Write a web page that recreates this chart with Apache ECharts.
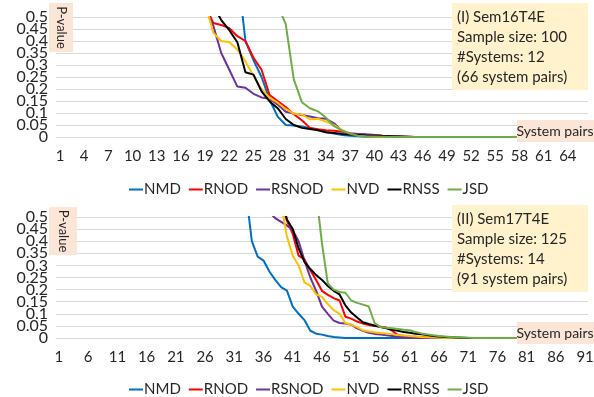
<!DOCTYPE html>
<html>
<head>
<meta charset="utf-8">
<script src="https://cdn.jsdelivr.net/npm/echarts@6/dist/echarts.min.js"></script>
<style>
html, body { margin: 0; padding: 0; background: #fff; }
#chart { width: 594px; height: 397px; }
</style>
</head>
<body>
<div id="chart"></div>
<script>
// system pair ranks (x categories)
var pairsTop = [];
for (var i = 1; i <= 66; i++) pairsTop.push(String(i));
var pairsBottom = [];
for (var j = 1; j <= 91; j++) pairsBottom.push(String(j));

var names = ['NMD', 'RNOD', 'RSNOD', 'NVD', 'RNSS', 'JSD'];
var colors = ['#0070C0', '#FF0000', '#7030A0', '#FFC000', '#000000', '#70AD47'];

// (I) Sem16T4E, 66 pairs, sorted p-values
var topNMD = [1, 1, 0.99, 0.99, 0.98, 0.97, 0.96, 0.95, 0.94, 0.93,
    0.92, 0.9, 0.89, 0.87, 0.86, 0.84, 0.83, 0.81, 0.79, 0.77,
    0.75, 0.73, 0.7, 0.4, 0.32, 0.25, 0.155, 0.085, 0.05, 0.048,
    0.044, 0.037, 0.03, 0.02, 0.014, 0.008, 0.005, 0.003, 0.001, 0,
    0, 0, 0, 0, 0, 0, 0, 0, 0, 0,
    0, 0, 0, 0, 0, 0, 0, 0, 0, 0,
    0, 0, 0, 0, 0, 0];
var topRNOD = [1, 1, 0.99, 0.98, 0.97, 0.96, 0.94, 0.93, 0.91, 0.89,
    0.87, 0.85, 0.82, 0.79, 0.76, 0.72, 0.68, 0.62, 0.55, 0.475,
    0.467, 0.453, 0.42, 0.4, 0.33, 0.28, 0.175, 0.15, 0.125, 0.095,
    0.07, 0.038, 0.032, 0.028, 0.026, 0.022, 0.016, 0.013, 0.01, 0.008,
    0.005, 0.003, 0.002, 0.001, 0, 0, 0, 0, 0, 0,
    0, 0, 0, 0, 0, 0, 0, 0, 0, 0,
    0, 0, 0, 0, 0, 0];
var topRSNOD = [1, 0.99, 0.99, 0.98, 0.96, 0.95, 0.93, 0.91, 0.89, 0.87,
    0.85, 0.83, 0.8, 0.77, 0.74, 0.7, 0.66, 0.6, 0.54, 0.465,
    0.35, 0.28, 0.21, 0.205, 0.18, 0.165, 0.16, 0.135, 0.105, 0.098,
    0.092, 0.085, 0.078, 0.076, 0.057, 0.025, 0.014, 0.012, 0.01, 0.008,
    0.005, 0.003, 0.002, 0.001, 0, 0, 0, 0, 0, 0,
    0, 0, 0, 0, 0, 0, 0, 0, 0, 0,
    0, 0, 0, 0, 0, 0];
var topNVD = [1, 0.99, 0.98, 0.98, 0.97, 0.95, 0.94, 0.92, 0.9, 0.88,
    0.86, 0.84, 0.81, 0.78, 0.75, 0.71, 0.67, 0.62, 0.56, 0.435,
    0.4, 0.395, 0.365, 0.315, 0.255, 0.2, 0.163, 0.143, 0.117, 0.097,
    0.094, 0.074, 0.076, 0.064, 0.05, 0.029, 0.013, 0.006, 0.003, 0.001,
    0, 0, 0, 0, 0, 0, 0, 0, 0, 0,
    0, 0, 0, 0, 0, 0, 0, 0, 0, 0,
    0, 0, 0, 0, 0, 0];
var topRNSS = [1, 1, 0.99, 0.98, 0.98, 0.97, 0.96, 0.95, 0.93, 0.92,
    0.9, 0.88, 0.86, 0.83, 0.8, 0.77, 0.73, 0.69, 0.62, 0.55,
    0.487, 0.445, 0.395, 0.27, 0.26, 0.19, 0.148, 0.12, 0.075, 0.05,
    0.038, 0.033, 0.028, 0.02, 0.017, 0.013, 0.01, 0.008, 0.006, 0.005,
    0.004, 0.003, 0.002, 0.001, 0, 0, 0, 0, 0, 0,
    0, 0, 0, 0, 0, 0, 0, 0, 0, 0,
    0, 0, 0, 0, 0, 0];
var topJSD = [1, 1, 1, 0.99, 0.99, 0.98, 0.98, 0.97, 0.97, 0.96,
    0.95, 0.95, 0.94, 0.93, 0.92, 0.91, 0.9, 0.88, 0.87, 0.85,
    0.83, 0.81, 0.78, 0.76, 0.72, 0.68, 0.62, 0.55, 0.47, 0.24,
    0.145, 0.12, 0.107, 0.08, 0.045, 0.027, 0.013, 0.005, 0.003, 0.002,
    0.001, 0, 0, 0, 0, 0, 0, 0, 0, 0,
    0, 0, 0, 0, 0, 0, 0, 0, 0, 0,
    0, 0, 0, 0, 0, 0];

// (II) Sem17T4E, 91 pairs
var botNMD = [1, 1, 1, 0.99, 0.99, 0.98, 0.98, 0.97, 0.96, 0.96,
    0.95, 0.94, 0.93, 0.92, 0.91, 0.9, 0.89, 0.88, 0.86, 0.85,
    0.84, 0.82, 0.81, 0.79, 0.77, 0.76, 0.74, 0.72, 0.7, 0.68,
    0.66, 0.63, 0.6, 0.4, 0.336, 0.32, 0.275, 0.24, 0.21, 0.196,
    0.13, 0.1, 0.074, 0.03, 0.018, 0.014, 0.008, 0.004, 0.002, 0,
    0, 0, 0, 0, 0, 0, 0, 0, 0, 0,
    0, 0, 0, 0, 0, 0, 0, 0, 0, 0,
    0, 0, 0, 0, 0, 0, 0, 0, 0, 0,
    0, 0, 0, 0, 0, 0, 0, 0, 0, 0,
    0];
var botRNOD = [1, 1, 1, 1, 0.99, 0.99, 0.98, 0.98, 0.97, 0.97,
    0.96, 0.95, 0.95, 0.94, 0.93, 0.92, 0.91, 0.9, 0.89, 0.88,
    0.87, 0.85, 0.84, 0.82, 0.81, 0.79, 0.77, 0.76, 0.74, 0.72,
    0.7, 0.68, 0.66, 0.65, 0.63, 0.61, 0.6, 0.58, 0.56, 0.485,
    0.43, 0.34, 0.325, 0.28, 0.24, 0.195, 0.178, 0.165, 0.155, 0.088,
    0.08, 0.068, 0.06, 0.054, 0.05, 0.047, 0.043, 0.03, 0.012, 0.008,
    0.006, 0.005, 0.004, 0.003, 0.002, 0.001, 0, 0, 0, 0,
    0, 0, 0, 0, 0, 0, 0, 0, 0, 0,
    0, 0, 0, 0, 0, 0, 0, 0, 0, 0,
    0];
var botRSNOD = [1, 1, 1, 0.99, 0.99, 0.98, 0.98, 0.97, 0.96, 0.96,
    0.95, 0.94, 0.93, 0.92, 0.91, 0.9, 0.89, 0.87, 0.86, 0.85,
    0.83, 0.82, 0.8, 0.78, 0.77, 0.75, 0.73, 0.71, 0.69, 0.67,
    0.65, 0.63, 0.61, 0.59, 0.57, 0.55, 0.52, 0.495, 0.48, 0.465,
    0.445, 0.4, 0.32, 0.25, 0.195, 0.13, 0.1, 0.072, 0.062, 0.06,
    0.055, 0.04, 0.03, 0.022, 0.017, 0.014, 0.011, 0.008, 0.005, 0.003,
    0.002, 0.001, 0, 0, 0, 0, 0, 0, 0, 0,
    0, 0, 0, 0, 0, 0, 0, 0, 0, 0,
    0, 0, 0, 0, 0, 0, 0, 0, 0, 0,
    0];
var botNVD = [1, 1, 0.99, 0.99, 0.98, 0.98, 0.97, 0.97, 0.96, 0.95,
    0.94, 0.93, 0.92, 0.91, 0.9, 0.89, 0.88, 0.86, 0.85, 0.84,
    0.82, 0.81, 0.79, 0.78, 0.76, 0.74, 0.73, 0.71, 0.69, 0.68,
    0.66, 0.65, 0.63, 0.62, 0.6, 0.59, 0.58, 0.57, 0.555, 0.42,
    0.34, 0.3, 0.23, 0.215, 0.18, 0.17, 0.14, 0.115, 0.1, 0.062,
    0.055, 0.045, 0.032, 0.027, 0.024, 0.021, 0.019, 0.016, 0.012, 0.01,
    0.008, 0.006, 0.004, 0.003, 0.002, 0.001, 0, 0, 0, 0,
    0, 0, 0, 0, 0, 0, 0, 0, 0, 0,
    0, 0, 0, 0, 0, 0, 0, 0, 0, 0,
    0];
var botRNSS = [1, 1, 1, 1, 0.99, 0.99, 0.99, 0.98, 0.98, 0.97,
    0.97, 0.96, 0.95, 0.95, 0.94, 0.93, 0.92, 0.91, 0.9, 0.89,
    0.88, 0.86, 0.85, 0.84, 0.82, 0.81, 0.79, 0.78, 0.76, 0.75,
    0.73, 0.72, 0.7, 0.69, 0.67, 0.66, 0.64, 0.62, 0.59, 0.49,
    0.45, 0.37, 0.315, 0.285, 0.26, 0.24, 0.215, 0.195, 0.18, 0.135,
    0.105, 0.085, 0.065, 0.058, 0.052, 0.045, 0.04, 0.034, 0.03, 0.025,
    0.022, 0.018, 0.015, 0.012, 0.008, 0.006, 0.004, 0.003, 0.002, 0.001,
    0, 0, 0, 0, 0, 0, 0, 0, 0, 0,
    0, 0, 0, 0, 0, 0, 0, 0, 0, 0,
    0];
var botJSD = [1, 1, 1, 1, 1, 0.99, 0.99, 0.99, 0.98, 0.98,
    0.98, 0.97, 0.97, 0.96, 0.96, 0.95, 0.95, 0.94, 0.93, 0.93,
    0.92, 0.91, 0.9, 0.9, 0.89, 0.88, 0.87, 0.86, 0.85, 0.84,
    0.83, 0.82, 0.81, 0.8, 0.78, 0.77, 0.76, 0.74, 0.73, 0.72,
    0.7, 0.68, 0.66, 0.64, 0.6, 0.39, 0.225, 0.2, 0.19, 0.187,
    0.155, 0.145, 0.138, 0.13, 0.062, 0.045, 0.042, 0.04, 0.037, 0.034,
    0.032, 0.025, 0.019, 0.015, 0.011, 0.008, 0.006, 0.004, 0.003, 0.002,
    0.001, 0, 0, 0, 0, 0, 0, 0, 0, 0,
    0, 0, 0, 0, 0, 0, 0, 0, 0, 0,
    0];

var infoTop = ['(I) Sem16T4E', 'Sample size: 100', '#Systems: 12', '(66 system pairs)'];
var infoBottom = ['(II) Sem17T4E', 'Sample size: 125', '#Systems: 14', '(91 system pairs)'];

var FONT = 'Lato';
var TXT = '#262626';

var myChart = echarts.init(document.getElementById('chart'), null, {renderer: 'canvas'});

function mkSeries(name, data, idx, k) {
    return {
        name: name,
        type: 'line',
        xAxisIndex: idx,
        yAxisIndex: idx,
        data: data,
        showSymbol: false,
        symbol: 'none',
        clip: true,
        color: colors[k],
        lineStyle: {width: 2, color: colors[k]},
        animation: false
    };
}

var topData = [topNMD, topRNOD, topRSNOD, topNVD, topRNSS, topJSD];
var botData = [botNMD, botRNOD, botRSNOD, botNVD, botRNSS, botJSD];
var series = [];
for (var k = 0; k < names.length; k++) series.push(mkSeries(names[k], topData[k], 0, k));
for (var k2 = 0; k2 < names.length; k2++) series.push(mkSeries(names[k2], botData[k2], 1, k2));

function fmt(v) { return String(+v.toFixed(2)); }

// main axis: inner tick labels + grid lines
function yAx(gi) {
    return {
        type: 'value',
        gridIndex: gi,
        position: 'left',
        min: 0,
        max: 0.5,
        interval: 0.05,
        axisLine: {show: false},
        axisTick: {show: false},
        splitLine: {lineStyle: {color: '#d9d9d9', width: 1}},
        axisLabel: {
            fontFamily: FONT, fontSize: 16, color: TXT, margin: 8,
            showMinLabel: false, showMaxLabel: false,
            formatter: fmt
        }
    };
}
// twin axis on the same side: only the 0 and 0.5 end labels (echarts drops them when crowded)
function yEnds(gi) {
    return {
        type: 'value',
        gridIndex: gi,
        position: 'left',
        offset: 0,
        min: 0,
        max: 0.5,
        interval: 0.5,
        axisLine: {show: false},
        axisTick: {show: false},
        splitLine: {show: false},
        axisLabel: {
            fontFamily: FONT, fontSize: 16, color: TXT, margin: 8,
            showMinLabel: true, showMaxLabel: true,
            formatter: fmt
        }
    };
}
function xAx(gi, cats, step) {
    return {
        type: 'category',
        gridIndex: gi,
        data: cats,
        boundaryGap: true,
        axisLine: {lineStyle: {color: '#d9d9d9'}},
        axisTick: {show: false},
        axisLabel: {interval: step, fontFamily: FONT, fontSize: 15, color: TXT, margin: 12}
    };
}
function legend(top) {
    return {
        top: top,
        left: 124,
        data: names,
        icon: 'rect',
        itemWidth: 14,
        itemHeight: 2,
        itemGap: 8,
        selectedMode: false,
        textStyle: {fontFamily: FONT, fontSize: 15, color: TXT, padding: [0, 0, 0, -4]}
    };
}

function infoBox(y, lines) {
    var els = [{type: 'rect', shape: {x: 452, y: y, width: 136, height: 87}, style: {fill: '#FFF2CC'}, z: 100}];
    for (var n = 0; n < lines.length; n++) {
        els.push({type: 'text', x: 457, y: y + 14 + n * 20, z: 101,
            style: {text: lines[n], fontFamily: FONT, fontSize: 15, fill: TXT, verticalAlign: 'middle'}});
    }
    return els;
}
function pBox(x, y, w, h) {
    return [
        {type: 'rect', shape: {x: x, y: y, width: w, height: h}, style: {fill: '#FBE5D6'}, z: 100},
        {type: 'text', x: x + w / 2, y: y + h / 2, rotation: -Math.PI / 2, z: 101,
            style: {text: 'P-value', fontFamily: FONT, fontSize: 13, fill: TXT, align: 'center', verticalAlign: 'middle'}}
    ];
}
function sysBox(y) {
    return [
        {type: 'rect', shape: {x: 517, y: y, width: 77, height: 22}, style: {fill: '#FBE5D6'}, z: 100},
        {type: 'text', x: 555, y: y + 11, z: 101,
            style: {text: 'System pairs', fontFamily: FONT, fontSize: 14, fill: TXT, align: 'center', verticalAlign: 'middle'}}
    ];
}

var graphics = [].concat(
    pBox(49, 3, 24, 49), pBox(49, 207, 28, 48),
    infoBox(3, infoTop), infoBox(205, infoBottom),
    sysBox(120), sysBox(322)
);

var option = {
    animation: false,
    backgroundColor: '#fff',
    grid: [
        {left: 56, top: 17, width: 532, height: 120, outerBoundsMode: 'none'},
        {left: 56, top: 217, width: 532, height: 121, outerBoundsMode: 'none'}
    ],
    xAxis: [xAx(0, pairsTop, 2), xAx(1, pairsBottom, 4)],
    yAxis: [yAx(0), yAx(1), yEnds(0), yEnds(1)],
    legend: [legend(177), legend(377)],
    series: series,
    graphic: graphics
};
myChart.setOption(option);
</script>
</body>
</html>
